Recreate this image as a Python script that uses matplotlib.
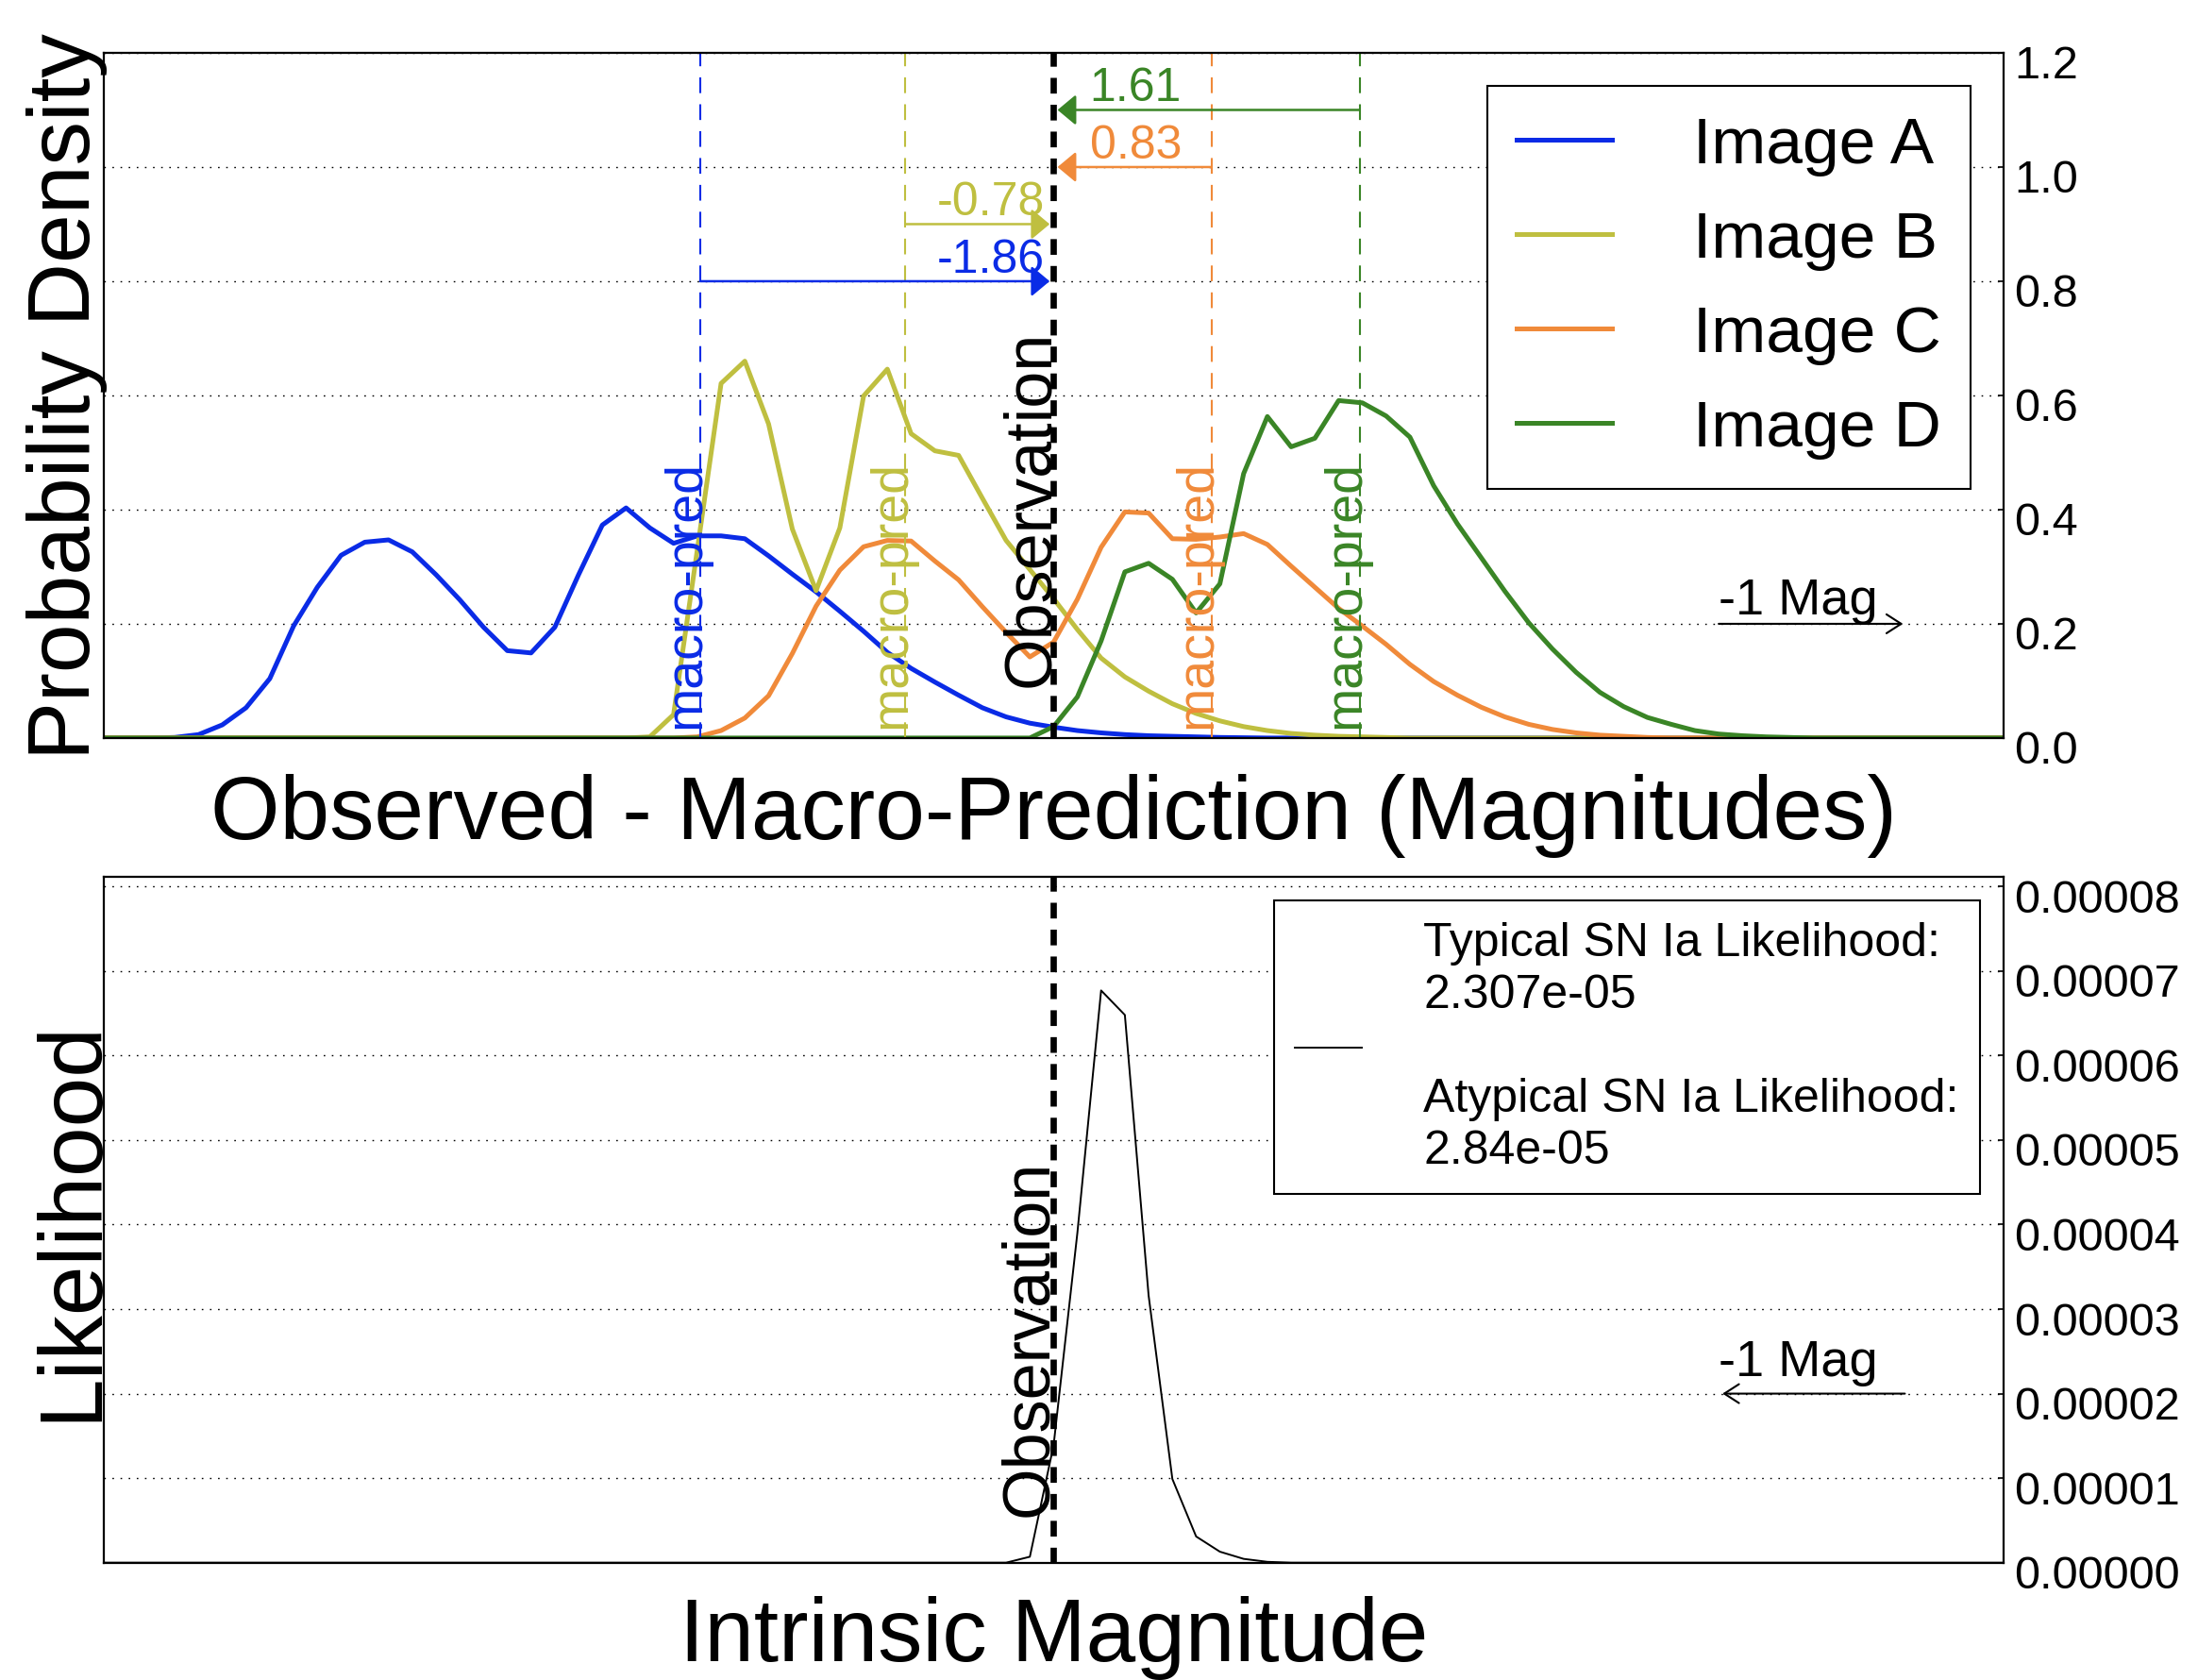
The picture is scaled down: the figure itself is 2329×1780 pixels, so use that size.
import matplotlib
matplotlib.use('Agg')
import matplotlib.pyplot as plt
import matplotlib.transforms as mtransforms
import numpy as np

plt.rcParams['font.family'] = ['Liberation Sans', 'DejaVu Sans']
plt.rcParams['lines.scale_dashes'] = False

# magnitude grid step of the sampled densities
step = 0.125
observation = 0.0

# ---- top panel: density of (observed - macro prediction) for each image
start_A = -4.75
dens_A = [0.0, 0.001, 0.006, 0.023, 0.053, 0.104, 0.196, 0.264, 0.320, 0.343,
          0.347, 0.326, 0.286, 0.242, 0.194, 0.153, 0.149, 0.194, 0.286, 0.373,
          0.403, 0.368, 0.341, 0.354, 0.354, 0.349, 0.319, 0.287, 0.256, 0.222,
          0.187, 0.150, 0.122, 0.098, 0.075, 0.053, 0.037, 0.026, 0.019, 0.013,
          0.009, 0.006, 0.004, 0.003, 0.002, 0.001, 0.0005, 0.0]
start_B = -2.25
dens_B = [0.0, 0.002, 0.041, 0.33, 0.621, 0.66, 0.55, 0.366, 0.258, 0.368,
          0.599, 0.646, 0.533, 0.503, 0.495, 0.42, 0.346, 0.295, 0.244, 0.19,
          0.14, 0.107, 0.082, 0.06, 0.043, 0.03, 0.02, 0.013, 0.008, 0.005,
          0.003, 0.002, 0.001, 0.0]
start_C = -2.0
dens_C = [0.0, 0.002, 0.013, 0.035, 0.074, 0.148, 0.231, 0.294, 0.335, 0.346,
          0.345, 0.31, 0.277, 0.230, 0.185, 0.142, 0.168, 0.243, 0.334, 0.396,
          0.394, 0.349, 0.348, 0.352, 0.358, 0.339, 0.301, 0.264, 0.227, 0.196,
          0.164, 0.129, 0.099, 0.075, 0.054, 0.037, 0.024, 0.015, 0.009, 0.005,
          0.003, 0.001, 0.0]
start_D = -0.25
dens_D = [0.0, 0.0, 0.02, 0.072, 0.17, 0.291, 0.306, 0.278, 0.219, 0.27,
          0.463, 0.563, 0.51, 0.525, 0.591, 0.587, 0.564, 0.527, 0.442, 0.375,
          0.316, 0.257, 0.202, 0.156, 0.115, 0.08, 0.055, 0.036, 0.024, 0.013,
          0.007, 0.004, 0.002, 0.001, 0.0]

labels = ['Image A', 'Image B', 'Image C', 'Image D']
colors = ['#0a2be6', '#bfbf40', '#f08a3a', '#3a8526']
starts = [start_A, start_B, start_C, start_D]
densities = [dens_A, dens_B, dens_C, dens_D]
macro_pred = [-1.86, -0.78, 0.83, 1.61]
offset_text = ['-1.86', '-0.78', '0.83', '1.61']
arrow_y = [0.8, 0.9, 1.0, 1.1]

# ---- bottom panel: likelihood against intrinsic magnitude
start_L = -0.375
likelihood = [0.0, 0.0, 0.07e-5, 1.39e-5, 3.9e-5, 6.77e-5, 6.48e-5, 3.16e-5,
              0.99e-5, 0.31e-5, 0.13e-5, 0.045e-5, 0.01e-5, 0.0]
like_label = 'Typical SN Ia Likelihood:\n2.307e-05\n\nAtypical SN Ia Likelihood:\n2.84e-05'

top_ticks = [0.0, 0.2, 0.4, 0.6, 0.8, 1.0, 1.2]
bottom_ticks = [0.0, 1e-5, 2e-5, 3e-5, 4e-5, 5e-5, 6e-5, 7e-5, 8e-5]


def grid_x(start, vals):
    return start + step * np.arange(len(vals))


def padded(start, vals):
    # extend the sampled curve with zeros to the edges of the axis
    x = list(grid_x(start, vals))
    y = list(vals)
    return [-5.0] + x + [5.0], [0.0] + y + [0.0]


fig = plt.figure(figsize=(23.29, 17.81), dpi=100)
ax1 = fig.add_axes([0.0471, 0.5604, 0.8645, 0.4076])
ax2 = fig.add_axes([0.0471, 0.0698, 0.8645, 0.4083])

dash = (12, 8.5)
grid_kw = dict(color='k', lw=1.0, dashes=(1.2, 5))

# top panel
for lab, c, s, d in zip(labels, colors, starts, densities):
    x, y = padded(s, d)
    ax1.plot(x, y, color=c, lw=3.6, label=lab)

ax1.axvline(observation, color='k', lw=4.8, dashes=dash, zorder=4)
ax1.text(observation + 0.05, 0.09, 'Observation', rotation=90, fontsize=50.5,
         ha='right', va='bottom', zorder=5)

for m, c, t, ya in zip(macro_pred, colors, offset_text, arrow_y):
    ax1.axvline(m, color=c, lw=1.5, dashes=dash)
    ax1.text(m + 0.058, 0.018, 'macro-pred', rotation=90, fontsize=40,
             color=c, ha='right', va='bottom')
    ax1.annotate('', xy=(observation, ya), xytext=(m, ya),
                 arrowprops=dict(arrowstyle='-|>,head_length=0.6,head_width=0.5',
                                 color=c, lw=1.8, shrinkA=0, shrinkB=3,
                                 mutation_scale=20))
    if m < observation:
        ax1.text(observation - 0.045, ya, t, color=c, fontsize=36,
                 ha='right', va='bottom')
    else:
        ax1.text(observation + 0.19, ya, t, color=c, fontsize=36,
                 ha='left', va='bottom')

ax1.text(3.5, 0.2, '-1 Mag', fontsize=39, ha='left', va='bottom')
ax1.annotate('', xy=(4.47, 0.2), xytext=(3.5, 0.2),
             arrowprops=dict(arrowstyle='->,head_length=0.56,head_width=0.36',
                             color='k', lw=1.5, shrinkA=0, shrinkB=0,
                             mutation_scale=20))

ax1.set_xlim(-5, 5)
ax1.set_ylim(0, 1.2)
ax1.set_yticks(top_ticks)
ax1.set_yticklabels(['%.1f' % v for v in top_ticks])
ax1.set_xticks([])
ax1.yaxis.grid(True, **grid_kw)
ax1.set_xlabel('Observed - Macro-Prediction (Magnitudes)', fontsize=68, labelpad=27)
ax1.set_ylabel('Probability Density', fontsize=67, labelpad=-3)

leg1 = ax1.legend(loc='upper right', fontsize=50, handlelength=1.45,
                  handletextpad=1.24, labelspacing=0.52, borderpad=0.45,
                  fancybox=False, framealpha=1, edgecolor='k')
leg1.get_frame().set_linewidth(1.5)

# bottom panel
xl, yl = padded(start_L, likelihood)
ax2.plot(xl, yl, color='k', lw=1.4, label=like_label)
ax2.axvline(observation, color='k', lw=4.8, dashes=dash, zorder=4)
ax2.text(observation + 0.04, 0.56e-5, 'Observation', rotation=90, fontsize=50.5,
         ha='right', va='bottom', zorder=5)

ax2.text(3.5, 2.1e-5, '-1 Mag', fontsize=39, ha='left', va='bottom')
ax2.annotate('', xy=(3.52, 2e-5), xytext=(4.48, 2e-5),
             arrowprops=dict(arrowstyle='->,head_length=0.56,head_width=0.36',
                             color='k', lw=1.5, shrinkA=0, shrinkB=0,
                             mutation_scale=20))

ax2.set_xlim(-5, 5)
ax2.set_ylim(0, 8.12e-5)
ax2.set_yticks(bottom_ticks)
ax2.set_yticklabels(['%.5f' % v for v in bottom_ticks])
ax2.set_xticks([])
ax2.yaxis.grid(True, **grid_kw)
ax2.set_xlabel('Intrinsic Magnitude', fontsize=68, labelpad=25)
ax2.set_ylabel('Likelihood', fontsize=68, labelpad=-8)

leg2 = ax2.legend(loc='upper right', fontsize=36, handlelength=1.42,
                  handletextpad=1.3, borderpad=0.45,
                  fancybox=False, framealpha=1, edgecolor='k')
leg2.get_frame().set_linewidth(1.5)
for t in leg2.get_texts():
    t.set_linespacing(1.25)

shift = mtransforms.ScaledTranslation(0, -0.09, fig.dpi_scale_trans)
for ax in (ax1, ax2):
    ax.yaxis.tick_right()
    ax.tick_params(axis='y', direction='in', length=4, width=1.2,
                   labelsize=35, pad=8)
    for sp in ax.spines.values():
        sp.set_linewidth(1.6)
    for lab in ax.get_yticklabels():
        lab.set_transform(lab.get_transform() + shift)

fig.savefig('out.png', dpi=100)
